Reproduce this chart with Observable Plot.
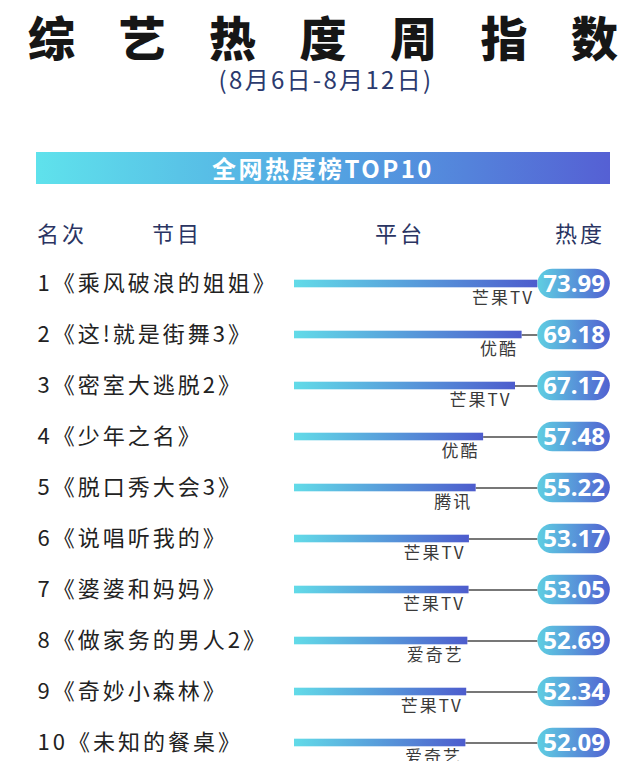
<!DOCTYPE html>
<html>
<head>
<meta charset="utf-8">
<script src="https://cdn.jsdelivr.net/npm/d3@7"></script>
<script src="https://cdn.jsdelivr.net/npm/@observablehq/plot@0.6"></script>
<style>
  html, body { margin: 0; padding: 0; background: #fff; }
  body { width: 640px; height: 761px; position: relative; overflow: hidden; font-family: "Noto Sans CJK SC", "Noto Sans", sans-serif; }
  .abs { position: absolute; white-space: nowrap; }
  #title { left: 28px; top: 10px; font-size: 47px; font-weight: 900; color: #161616; letter-spacing: 43.5px; line-height: 52px; }
  #title .last { letter-spacing: 0; }
  #subtitle { left: 0; width: 640px; text-align: center; top: 64px; font-size: 24px; color: #2b3a6e; line-height: 30px; letter-spacing: 2.3px; padding-left: 12px; box-sizing: border-box; }
  #banner { left: 36px; top: 152px; width: 574px; height: 32px; background: linear-gradient(to right, #5fe2ec, #53a6e2 50%, #5560d4); color: #fff; text-align: center; font-size: 24px; font-weight: 700; line-height: 32px; letter-spacing: 2.5px; }
  .hdr { top: 216px; font-size: 22px; color: #2a3462; line-height: 32px; letter-spacing: 3px; }
  #chart { left: 0; top: 245px; }
</style>
</head>
<body>
<div id="title" class="abs">综艺热度周指<span class="last">数</span></div>
<div id="subtitle" class="abs">(8月6日-8月12日)</div>
<div id="banner" class="abs">全网热度榜TOP10</div>
<div class="abs hdr" style="left:37px">名次</div>
<div class="abs hdr" style="left:152px">节目</div>
<div class="abs hdr" style="left:375px">平台</div>
<div class="abs hdr" style="left:555px">热度</div>
<div id="chart" class="abs"></div>
<script>
const ranks = [1, 2, 3, 4, 5, 6, 7, 8, 9, 10];
const shows = ["乘风破浪的姐姐", "这!就是街舞3", "密室大逃脱2", "少年之名", "脱口秀大会3", "说唱听我的", "婆婆和妈妈", "做家务的男人2", "奇妙小森林", "未知的餐桌"];
const platforms = ["芒果TV", "优酷", "芒果TV", "优酷", "腾讯", "芒果TV", "芒果TV", "爱奇艺", "芒果TV", "爱奇艺"];
const heat = [73.99, 69.18, 67.17, 57.48, 55.22, 53.17, 53.05, 52.69, 52.34, 52.09];

const data = ranks.map((r, i) => ({rank: r, show: shows[i], platform: platforms[i], heat: heat[i]}));
const maxHeat = d3.max(heat);
const pillWidth = 22;

const defs = () => {
  const d = d3.create("svg:defs");
  const g1 = d.append("linearGradient").attr("id", "barGrad").attr("x1", "0").attr("x2", "1").attr("y1", "0").attr("y2", "0");
  g1.append("stop").attr("offset", "0%").attr("stop-color", "#62dbe8");
  g1.append("stop").attr("offset", "100%").attr("stop-color", "#4d5ccd");
  const g2 = d.append("linearGradient").attr("id", "pillGrad").attr("x1", "0").attr("x2", "1").attr("y1", "0").attr("y2", "0");
  g2.append("stop").attr("offset", "0%").attr("stop-color", "#5fcfe2");
  g2.append("stop").attr("offset", "100%").attr("stop-color", "#5161d1");
  return d.node();
};

const chart = Plot.plot({
  width: 640,
  height: 516,
  marginLeft: 294,
  marginRight: 16,
  marginTop: 11,
  marginBottom: 0,
  style: {background: "transparent", fontFamily: "'Noto Sans CJK SC', 'Noto Sans', sans-serif"},
  x: {domain: [0, 100.3], axis: null},
  y: {type: "band", domain: ranks, range: [11.33, 524.67], padding: 0, axis: null},
  marks: [
    defs,
    Plot.ruleY(data, {y: "rank", x1: "heat", x2: () => maxHeat, stroke: "#4a4a4a", strokeWidth: 1.5}),
    Plot.barX(data, {y: "rank", x1: () => 0, x2: "heat", fill: "url(#barGrad)", insetTop: 21.7, insetBottom: 21.7}),
    Plot.text(data, {y: "rank", x: "heat", text: "platform", textAnchor: "end", dx: -4, dy: 15, fontSize: 17, fill: "#3a3a3a"}),
    Plot.text(data, {y: "rank", text: d => d.rank + "《" + d.show + "》", frameAnchor: "left", dx: -257, fontSize: 22, fill: "#222", textAnchor: "start"}),
    Plot.barX(data, {y: "rank", x1: () => maxHeat, x2: () => maxHeat + pillWidth, rx: 15, fill: "url(#pillGrad)", insetTop: 10.7, insetBottom: 10.7}),
    Plot.text(data, {y: "rank", x: () => maxHeat + pillWidth / 2, text: d => d.heat.toFixed(2), fill: "#fff", fontSize: 24, fontWeight: "bold", fontFamily: "'Noto Sans', sans-serif"})
  ]
});
const textGroups = chart.querySelectorAll('g[aria-label="text"]');
if (textGroups[0]) textGroups[0].style.letterSpacing = "2px";
if (textGroups[1]) textGroups[1].style.letterSpacing = "3px";
document.getElementById("chart").appendChild(chart);
</script>
</body>
</html>
